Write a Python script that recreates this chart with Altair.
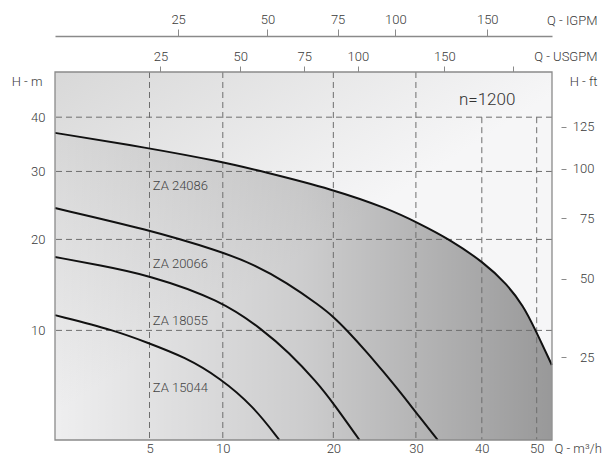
import altair as alt
import pandas as pd

# ---------------- data ----------------
# pump curves: flow Q in m3/h, head H in m
Q_24086 = [0, 4.9, 9.8, 13.2, 20.0, 26.4, 30.3, 34.9, 40.4, 44.3, 47.4, 49.7, 53.06]
H_24086 = [36.9, 34.1, 31.7, 30.0, 27.1, 24.2, 22.2, 20.0, 17.1, 14.7, 12.4, 10.1, 7.0]

Q_20066 = [0, 4.9, 9.8, 12.44, 15.37, 18.61, 20.0, 21.5, 23.9, 25.7, 27.9, 30.3, 33.1]
H_20066 = [24.3, 21.3, 18.5, 16.94, 14.85, 12.38, 11.3, 10.0, 7.96, 6.5, 4.9, 3.27, 1.67]

Q_18055 = [0, 2.2, 4.9, 9.8, 13.3, 15.5, 18.3, 20.0, 22.9]
H_18055 = [17.8, 16.8, 15.7, 13.0, 10.0, 8.1, 5.65, 4.1, 1.67]

Q_15044 = [0, 3.0, 4.85, 7.3, 9.8, 12.4, 14.7]
H_15044 = [11.45, 10.0, 8.9, 7.65, 5.96, 3.92, 1.67]

MODELS = ["ZA 24086", "ZA 20066", "ZA 18055", "ZA 15044"]
LABEL_Q = [5.2, 5.2, 5.2, 5.2]
LABEL_H = [27.6, 16.9, 10.9, 5.2]

SPEED_TEXT = ["n=1200"]
SPEED_Q = [40.9]
SPEED_H = [43.6]

X_TICKS = [5, 10, 20, 30, 40, 50]
V_GRID_TOP = [50, 50, 50, 50, 40, 40]
H_TICKS = [10, 20, 30, 40]
FT_TICKS = [25, 50, 75, 100, 125]
USGPM_TICKS = [25, 50, 75, 100, 150, 200]
IGPM_TICKS = [25, 50, 75, 100, 150]

# ---------------- scales ----------------
Q_MIN, Q_MAX = 0.0, 53.1
H_MIN, H_MAX = 1.67, 50.0
QC, HC = 15, 15
USGPM_PER_M3H = 4.402868
IGPM_PER_M3H = 3.666154
FT_PER_M = 3.28084

W, H = 497, 368
FONT = "Roboto"
TXT = "#3a3a3a"
GRAY = "#8a8a8a"

SX = alt.Scale(type="symlog", constant=QC, domain=[Q_MIN, Q_MAX], nice=False, zero=False)
SY = alt.Scale(type="symlog", constant=HC, domain=[H_MIN, H_MAX], nice=False, zero=False)
SUS = alt.Scale(type="symlog", constant=QC * USGPM_PER_M3H,
                domain=[Q_MIN * USGPM_PER_M3H, Q_MAX * USGPM_PER_M3H], nice=False, zero=False)
SIG = alt.Scale(type="symlog", constant=QC * IGPM_PER_M3H,
                domain=[Q_MIN * IGPM_PER_M3H, Q_MAX * IGPM_PER_M3H], nice=False, zero=False)
SFT = alt.Scale(type="symlog", constant=HC * FT_PER_M,
                domain=[H_MIN * FT_PER_M, H_MAX * FT_PER_M], nice=False, zero=False)

lab = dict(labelFont=FONT, labelFontSize=13, labelFontWeight=300, labelColor=TXT,
           labelFlush=False, labelOverlap=False, grid=False,
           titleFont=FONT, titleFontSize=13, titleFontWeight=300, titleColor=TXT, titleAngle=0)

AX_X = alt.Axis(values=X_TICKS, orient="bottom", domain=False, ticks=False, tickSize=0,
                labelPadding=2, title="Q - m³/h", titleX=499, titleY=12, titleAlign="left",
                titleBaseline="alphabetic", **lab)
AX_Y = alt.Axis(values=H_TICKS, orient="left", domain=False, ticks=False, tickSize=0,
                labelPadding=10, title="H - m", titleX=-13, titleY=9, titleAlign="right",
                titleBaseline="middle", **lab)
AX_US = alt.Axis(values=USGPM_TICKS, orient="top", domain=False, ticks=True, tickSize=6,
                 tickColor=GRAY, tickWidth=1, labelPadding=3,
                 labelExpr="datum.value == 200 ? '' : datum.label",
                 title="Q - USGPM", titleX=542, titleY=-16, titleAlign="right",
                 titleBaseline="middle", **lab)
AX_IG = alt.Axis(values=IGPM_TICKS, orient="top", offset=36, domain=True, domainColor=GRAY,
                 domainWidth=1.5, ticks=True, tickSize=7, tickColor=GRAY, tickWidth=1,
                 labelPadding=3, title="Q - IGPM", titleX=542, titleY=-16, titleAlign="right",
                 titleBaseline="middle", **lab)
AX_FT = alt.Axis(values=FT_TICKS, orient="right", offset=9, domain=False, ticks=True, tickSize=5,
                 tickColor=GRAY, tickWidth=1, labelAlign="right", labelBaseline="middle",
                 labelPadding=28, title="H - ft", titleX=36, titleY=9, titleAlign="right",
                 titleBaseline="middle", **lab)

# ---------------- tables ----------------
df_frame = pd.DataFrame({"x0": [Q_MIN], "x1": [Q_MAX], "y0": [H_MIN], "y1": [H_MAX]})
df_area = pd.DataFrame({"Q": Q_24086, "H": H_24086, "base": H_MIN})
df_v = pd.DataFrame({"Q": X_TICKS, "top": V_GRID_TOP, "base": H_MIN})
df_h = pd.DataFrame({"H": H_TICKS})
rows = []
for name, qs, hs in zip(MODELS, [Q_24086, Q_20066, Q_18055, Q_15044],
                        [H_24086, H_20066, H_18055, H_15044]):
    for i, (q, h) in enumerate(zip(qs, hs)):
        rows.append({"model": name, "Q": q, "H": h, "i": i})
df_lines = pd.DataFrame(rows)
df_labels = pd.DataFrame({"model": MODELS, "Q": LABEL_Q, "H": LABEL_H})
df_speed = pd.DataFrame({"t": SPEED_TEXT, "Q": SPEED_Q, "H": SPEED_H})


def X(f):
    return alt.X(f, type="quantitative", scale=SX, axis=AX_X)


def Y(f):
    return alt.Y(f, type="quantitative", scale=SY, axis=AX_Y)


bg_grad = {"gradient": "linear", "x1": 0, "y1": 0, "x2": 0.46, "y2": 0.53,
           "stops": [{"offset": 0, "color": "#d8d8d8"}, {"offset": 1, "color": "#f6f6f7"}]}
area_grad = {"gradient": "linear", "x1": 0, "y1": 0, "x2": 1, "y2": 0,
             "stops": [{"offset": 0, "color": "rgba(0,0,0,0.03)"},
                       {"offset": 0.5, "color": "rgba(0,0,0,0.17)"},
                       {"offset": 1, "color": "rgba(0,0,0,0.38)"}]}

bg = alt.Chart(df_frame).mark_rect(fill=bg_grad).encode(
    x=X("x0"), x2="x1", y=Y("y0"), y2="y1")

area = alt.Chart(df_area).mark_area(fill=area_grad, interpolate="basis").encode(
    x=X("Q"), y=Y("H"), y2="base")

grid_v = alt.Chart(df_v).mark_rule(color="#6e6e6e", strokeWidth=1, strokeDash=[6, 4]).encode(
    x=X("Q"), y=Y("top"), y2="base")
grid_h = alt.Chart(df_h).mark_rule(color="#6e6e6e", strokeWidth=1, strokeDash=[6, 4]).encode(
    y=Y("H"))

lines = alt.Chart(df_lines).mark_line(color="#111111", strokeWidth=2, interpolate="basis").encode(
    x=X("Q"), y=Y("H"), detail="model:N", order="i:Q")

labels = alt.Chart(df_labels).mark_text(align="left", baseline="middle", font=FONT, fontSize=13,
                                        fontWeight=300, color="#444444").encode(
    x=X("Q"), y=Y("H"), text="model:N")

speed = alt.Chart(df_speed).mark_text(align="center", baseline="middle", font=FONT, fontSize=17,
                                      fontWeight=300, color="#333333").encode(
    x=X("Q"), y=Y("H"), text="t:N")

frame = alt.Chart(df_frame).mark_rect(filled=False, stroke=GRAY, strokeWidth=1.3).encode(
    x=X("x0"), x2="x1", y=Y("y0"), y2="y1")

main = alt.layer(bg, area, grid_v, grid_h, lines, labels, speed, frame)

us_layer = alt.Chart(pd.DataFrame({"u": USGPM_TICKS})).mark_point(opacity=0).encode(
    x=alt.X("u", type="quantitative", scale=SUS, axis=AX_US))
ig_layer = alt.Chart(pd.DataFrame({"g": IGPM_TICKS})).mark_point(opacity=0).encode(
    x=alt.X("g", type="quantitative", scale=SIG, axis=AX_IG))
ft_layer = alt.Chart(pd.DataFrame({"f": FT_TICKS})).mark_point(opacity=0).encode(
    y=alt.Y("f", type="quantitative", scale=SFT, axis=AX_FT))

chart = alt.layer(main, us_layer, ig_layer, ft_layer).resolve_scale(
    x="independent", y="independent"
).properties(
    width=W, height=H,
    padding={"left": 47, "top": 64, "right": 51, "bottom": 14},
    autosize=alt.AutoSizeParams(type="none"),
    background="white",
).configure_view(stroke=None)

chart.save("out.html", embed_options={"renderer": "svg", "actions": False})
